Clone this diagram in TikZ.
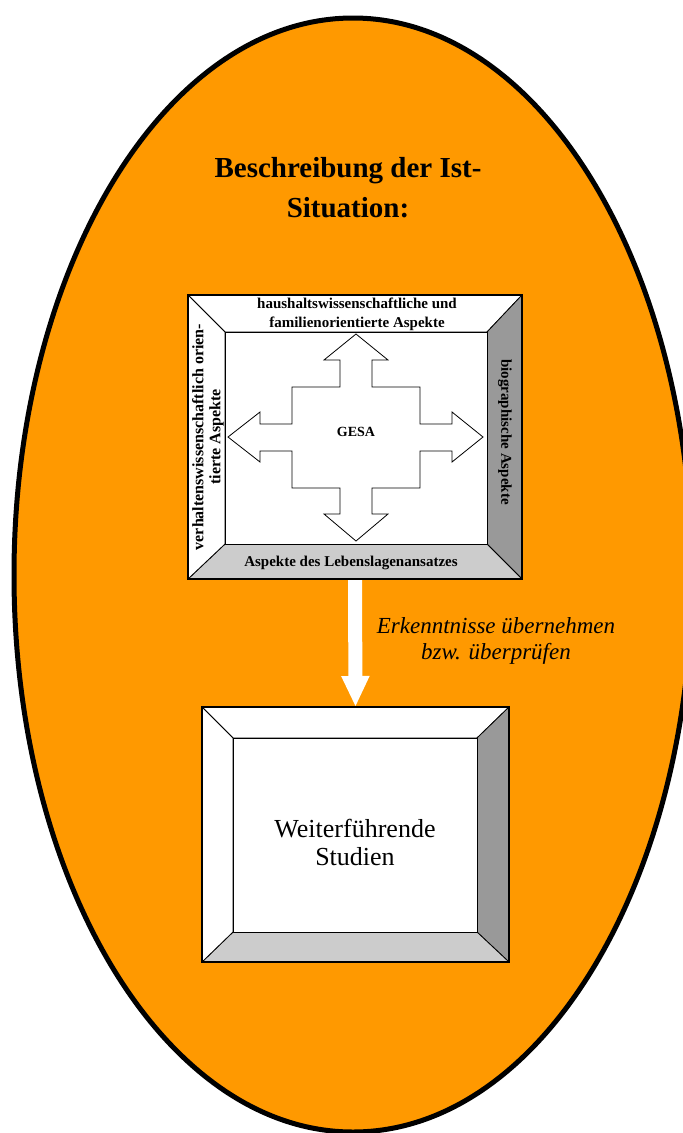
\documentclass[tikz,border=0pt]{standalone}
\usepackage{fontspec}
\setmainfont{Liberation Serif}
\usepackage{tikz}
\usetikzlibrary{arrows.meta}

\definecolor{ovalorange}{HTML}{FF9900}
\definecolor{sidegray}{HTML}{999999}
\definecolor{basegray}{HTML}{CCCCCC}

\begin{document}
\begin{tikzpicture}[x=1pt, y=-1pt,
    frame/.style={inner sep=0pt, outer sep=0pt},
    panel/.style={draw, line width=0.8pt, line join=round},
    aspect/.style={font=\bfseries\fontsize{15}{19}\selectfont, align=center, inner sep=0pt}]
  % Define page
  \useasboundingbox (0,0) rectangle (683,1133);
  \clip (0,0) rectangle (683,1133);

  % Draw the orange oval
  \draw[line width=5pt, fill=ovalorange] (353,575) ellipse [x radius=339, y radius=557];

  % Heading
  \node[font=\bfseries\fontsize{29}{40}\selectfont, align=center] (title) at (348,188)
    {Beschreibung der Ist-\\Situation:};

  % Define the frames of both boxes
  \node[frame, minimum width=334, minimum height=284] (ist) at (355,437) {};
  \node[frame, minimum width=262, minimum height=212] (istin) at (356,438) {};
  \node[frame, minimum width=307, minimum height=255] (studien) at (355.5,834.5) {};
  \node[frame, minimum width=244, minimum height=194] (studienin) at (355,835) {};

  % White arrow between the boxes
  \draw[white, line width=14pt, -{Triangle[length=31pt, width=26pt]}] (ist.south) -- (studien.north);

  % Draw the upper box with bevelled sides
  \filldraw[panel, fill=white] (ist.north west) -- (ist.north east) -- (istin.north east) -- (istin.north west) -- cycle;
  \filldraw[panel, fill=sidegray] (ist.north east) -- (ist.south east) -- (istin.south east) -- (istin.north east) -- cycle;
  \filldraw[panel, fill=basegray] (ist.south east) -- (ist.south west) -- (istin.south west) -- (istin.south east) -- cycle;
  \filldraw[panel, fill=white] (ist.south west) -- (ist.north west) -- (istin.north west) -- (istin.south west) -- cycle;
  \filldraw[panel, fill=white] (istin.north west) rectangle (istin.south east);
  \draw[line width=1.6pt] (ist.north west) rectangle (ist.south east);

  % Draw the lower box with bevelled sides
  \filldraw[panel, fill=white] (studien.north west) -- (studien.north east) -- (studienin.north east) -- (studienin.north west) -- cycle;
  \filldraw[panel, fill=sidegray] (studien.north east) -- (studien.south east) -- (studienin.south east) -- (studienin.north east) -- cycle;
  \filldraw[panel, fill=basegray] (studien.south east) -- (studien.south west) -- (studienin.south west) -- (studienin.south east) -- cycle;
  \filldraw[panel, fill=white] (studien.south west) -- (studien.north west) -- (studienin.north west) -- (studienin.south west) -- cycle;
  \filldraw[panel, fill=white] (studienin.north west) rectangle (studienin.south east);
  \draw[line width=1.6pt] (studien.north west) rectangle (studien.south east);

  % Four-way arrow in the middle
  \draw[line width=0.8pt, fill=white, shift={(356,437)}]
    (0,-103) -- (32,-77) -- (16,-77) -- (16,-50) -- (64,-50) -- (64,-13) -- (96,-13) -- (96,-25) -- (127,0)
    -- (96,25) -- (96,14) -- (64,14) -- (64,51) -- (16,51) -- (16,77) -- (32,77) -- (0,104)
    -- (-32,77) -- (-16,77) -- (-16,51) -- (-64,51) -- (-64,14) -- (-96,14) -- (-96,25) -- (-128,0)
    -- (-96,-25) -- (-96,-13) -- (-64,-13) -- (-64,-50) -- (-16,-50) -- (-16,-77) -- (-32,-77) -- cycle;
  \node[font=\bfseries\fontsize{14}{17}\selectfont] (gesa) at (356,432) {GESA};

  % Labels on the bevelled sides
  \node[aspect] (haushalt) at (357,314) {haushaltswissenschaftliche und\\familienorientierte Aspekte};
  \node[aspect] (lebenslage) at (351,563) {Aspekte des Lebenslagenansatzes};
  \node[aspect, font=\bfseries\fontsize{16}{17}\selectfont, rotate=90] (verhalten) at (208,437) {verhaltenswissenschaftlich orien-\\tierte Aspekte};
  \node[aspect, rotate=-90] (bio) at (505,432) {biographische Aspekte};

  % Text of the lower box and of the arrow
  \node[font=\fontsize{26}{28}\selectfont, align=center] (weiter) at (355,842) {Weiterführende\\Studien};
  \node[font=\itshape\fontsize{23}{26}\selectfont, align=center] (hint) at (496,641)
    {Erkenntnisse übernehmen\\bzw. überprüfen};
\end{tikzpicture}
\end{document}
